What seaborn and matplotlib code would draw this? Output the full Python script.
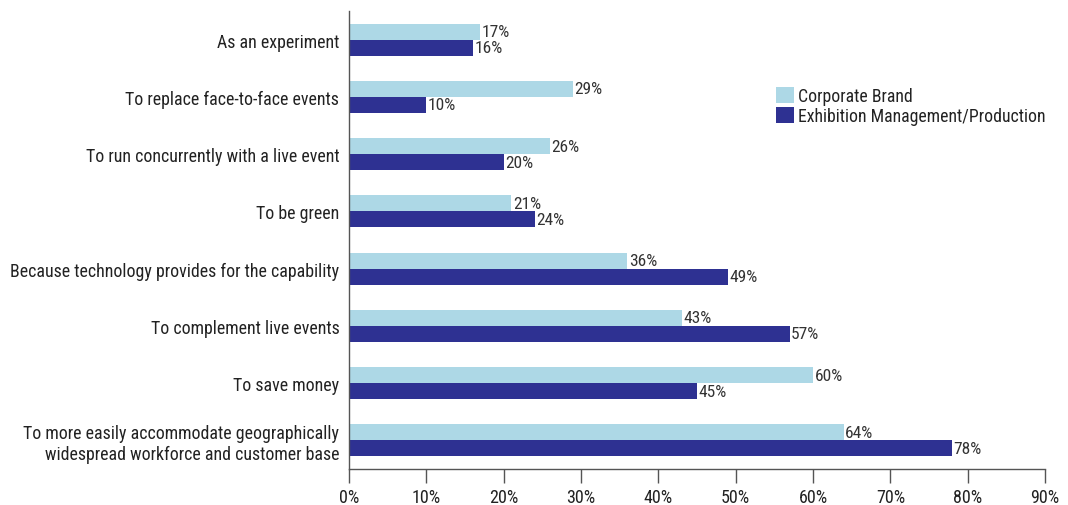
import matplotlib
matplotlib.use("Agg")
import matplotlib.pyplot as plt
import seaborn as sns
import pandas as pd
import numpy as np
import logging
from matplotlib.ticker import FixedLocator, PercentFormatter
from matplotlib.patches import Patch

logging.getLogger("matplotlib.font_manager").setLevel(logging.ERROR)

categories = [
    "As an experiment",
    "To replace face-to-face events",
    "To run concurrently with a live event",
    "To be green",
    "Because technology provides for the capability",
    "To complement live events",
    "To save money",
    "To more easily accommodate geographically\nwidespread workforce and customer base",
]
series_names = ["Corporate Brand", "Exhibition Management/Production"]
corporate = [17, 29, 26, 21, 36, 43, 60, 64]
exhibition = [16, 10, 20, 24, 49, 57, 45, 78]
x_ticks = [0, 10, 20, 30, 40, 50, 60, 70, 80, 90]

colors = ["#ADD8E6", "#2E3192"]

df = pd.DataFrame({
    "reason": categories * 2,
    "group": [series_names[0]] * len(categories) + [series_names[1]] * len(categories),
    "pct": corporate + exhibition,
})

sns.set_theme(style="white")
plt.rcParams["font.family"] = ["Roboto Condensed", "Archivo Narrow", "PT Sans Narrow",
                               "Liberation Sans Narrow", "Liberation Sans", "DejaVu Sans"]

fig = plt.figure(figsize=(10.68, 5.06), dpi=100)
ax = fig.add_axes([0.3268, 0.0711, 0.6517, 0.9052])

sns.barplot(
    data=df, y="reason", x="pct", hue="group",
    order=categories, hue_order=series_names,
    palette=colors, orient="h", width=0.56, gap=0,
    saturation=1, linewidth=0, ax=ax, legend=False,
)

for container, vals in zip(ax.containers, [corporate, exhibition]):
    ax.bar_label(container, labels=[f"{v}%" for v in vals], padding=1,
                 fontsize=12.5, color="#333333")

ax.set_xlim(0, 90)
ax.set_ylim(len(categories) - 0.5, -0.5)
ax.xaxis.set_major_locator(FixedLocator(x_ticks))
ax.xaxis.set_major_formatter(PercentFormatter(decimals=0))
ax.set_xlabel("")
ax.set_ylabel("")

# category labels without tick marks; separators at group boundaries
ax.tick_params(axis="y", which="major", length=0, pad=7, labelsize=12.9,
               labelcolor="#222222")
ax.yaxis.set_minor_locator(FixedLocator(np.arange(-0.5, len(categories), 1.0)))
ax.tick_params(axis="y", which="minor", length=8, width=1, color="#555555")
ax.tick_params(axis="x", which="major", length=10, width=1, color="#555555",
               labelsize=13, labelcolor="#222222", pad=4, bottom=True)

sns.despine(ax=ax, top=True, right=True)
for side in ("left", "bottom"):
    ax.spines[side].set_color("#555555")
    ax.spines[side].set_linewidth(1)

handles = [Patch(facecolor=c, edgecolor="none") for c in colors]
fig.legend(handles, series_names, loc="upper left",
           bbox_to_anchor=(776 / 1068, 1 - 88 / 506),
           bbox_transform=fig.transFigure, frameon=False, fontsize=12.75,
           handlelength=1.0, handleheight=1.0, handletextpad=0.25,
           labelspacing=0.1, borderaxespad=0, borderpad=0, labelcolor="#222222")

fig.savefig("out.png", dpi=100)
